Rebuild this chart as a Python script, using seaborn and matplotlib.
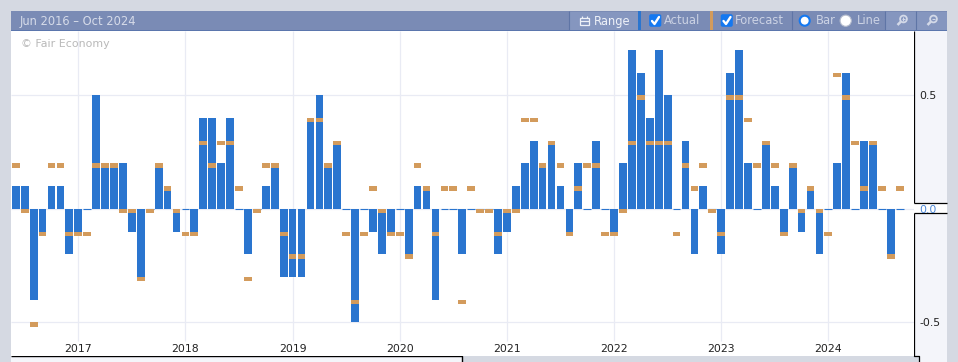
import matplotlib
matplotlib.use("Agg")
import matplotlib.pyplot as plt
from matplotlib.patches import Rectangle, Circle, FancyBboxPatch
import pandas as pd
import seaborn as sns

months = list(range(100))
actual = [0.1, 0.1, -0.4, -0.1, 0.1, 0.1, -0.2, -0.1, 0.0, 0.5,
          0.2, 0.2, 0.2, -0.1, -0.3, 0.0, 0.2, 0.1, -0.1, 0.0,
          -0.1, 0.4, 0.4, 0.2, 0.4, 0.0, -0.2, 0.0, 0.1, 0.2,
          -0.3, -0.3, -0.3, 0.4, 0.5, 0.2, 0.3, 0.0, -0.5, 0.0,
          -0.1, -0.2, -0.1, 0.0, -0.2, 0.1, 0.1, -0.4, 0.0, 0.0,
          -0.2, 0.0, 0.0, 0.0, -0.2, -0.1, 0.1, 0.2, 0.3, 0.2,
          0.3, 0.1, -0.1, 0.2, 0.0, 0.3, 0.0, -0.1, 0.2, 0.7,
          0.6, 0.4, 0.7, 0.5, 0.0, 0.3, -0.2, 0.1, 0.0, -0.2,
          0.6, 0.7, 0.2, 0.0, 0.3, 0.1, -0.1, 0.2, -0.1, 0.1,
          -0.2, 0.0, 0.2, 0.6, 0.0, 0.3, 0.3, 0.0, -0.2, 0.0]
forecast = [0.2, 0.0, -0.5, -0.1, 0.2, 0.2, -0.1, -0.1, -0.1, 0.2,
            0.2, 0.2, 0.0, 0.0, -0.3, 0.0, 0.2, 0.1, 0.0, -0.1,
            -0.1, 0.3, 0.2, 0.3, 0.3, 0.1, -0.3, 0.0, 0.2, 0.2,
            -0.1, -0.2, -0.2, 0.4, 0.4, 0.2, 0.3, -0.1, -0.4, -0.1,
            0.1, 0.0, -0.1, -0.1, -0.2, 0.2, 0.1, -0.1, 0.1, 0.1,
            -0.4, 0.1, 0.0, 0.0, -0.1, 0.0, 0.0, 0.4, 0.4, 0.2,
            0.3, 0.2, -0.1, 0.1, 0.2, 0.2, -0.1, -0.1, 0.0, 0.3,
            0.5, 0.3, 0.3, 0.3, -0.1, 0.2, 0.1, 0.2, 0.0, -0.1,
            0.5, 0.5, 0.4, 0.2, 0.3, 0.2, -0.1, 0.2, 0.0, 0.1,
            0.0, -0.1, 0.6, 0.5, 0.3, 0.1, 0.3, 0.1, -0.2, 0.1]
year_ticks = [7, 19, 31, 43, 55, 67, 79, 91]
year_labels = ["2017", "2018", "2019", "2020", "2021", "2022", "2023", "2024"]
y_ticks = [-0.5, 0.0, 0.5]
y_labels = ["-0.5", "0.0", "0.5"]

BLUE = "#2a75cf"
ORANGE = "#d39b5c"
GRID = "#e9ebf4"
PAGE = "#d5d9e2"
PANEL = "#f4f5fa"
HEAD = "#7a8bb5"
HEAD_LIGHT = "#8596bf"
W, H = 958, 362

sns.set_theme(style="white")
plt.rcParams["font.family"] = ["DejaVu Sans"]

fig = plt.figure(figsize=(W / 100, H / 100), dpi=100, facecolor=PAGE)

# ---- chrome layer, in pixel coordinates
ch = fig.add_axes([0, 0, 1, 1], zorder=0)
ch.set_xlim(0, W)
ch.set_ylim(H, 0)
ch.axis("off")


def rect(x0, y0, x1, y1, c, z=1):
    ch.add_patch(Rectangle((x0, y0), x1 - x0, y1 - y0, fc=c, ec="none", zorder=z))


def line(xs, ys, c="black", lw=0.9, z=3):
    ch.plot(xs, ys, color=c, lw=lw, solid_capstyle="butt", zorder=z)


rect(914, 31, 947, 362, PANEL)
rect(914, 356, 920, 362, PAGE, 2)
rect(11, 356, 462, 362, PANEL)
rect(914, 203, 947, 213, "white", 2)
line([914, 914], [31, 202.5])
line([914, 947], [202.5, 202.5])
line([914, 947], [213, 213])
line([914, 914, 919.5, 919.5], [213, 356, 356, 362])
line([11, 462, 462], [356, 356, 362], lw=1.0)

rect(11, 11, 947, 30.5, HEAD)
rect(11, 30, 947, 31, "#5b76ad", 2)
rect(570, 12, 638, 30, HEAD_LIGHT, 2)
rect(885, 12, 947, 30, HEAD_LIGHT, 2)
for sx in (569.5, 792, 885, 916):
    line([sx, sx], [11, 30], c="#5f75a6", lw=0.8)
rect(638, 11, 641.5, 30, BLUE, 3)
rect(710, 11, 713, 30, ORANGE, 3)

for cx in (649, 720.5):
    ch.add_patch(FancyBboxPatch((cx + 1, 15), 10.5, 11, boxstyle="round,pad=0.8,rounding_size=2",
                                fc="#1478f0", ec="none", zorder=4))
    ch.plot([cx + 3, cx + 5.5, cx + 10], [21, 24, 17], color="white", lw=1.7, zorder=5)

ch.add_patch(Circle((804.7, 20.7), 5.0, fc="white", ec="#1478f0", lw=1.5, zorder=4))
ch.add_patch(Circle((845.7, 20.7), 5.6, fc="white", ec="#b5bccd", lw=0.8, zorder=4))

ch.add_patch(Rectangle((580, 18), 9.5, 7, fc="none", ec="#eef1f8", lw=0.9, zorder=4))
line([580, 589.5], [20.5, 20.5], c="#eef1f8", lw=0.9, z=4)
line([582, 582], [15.5, 18], c="#eef1f8", lw=0.9, z=4)
line([587.5, 587.5], [15.5, 18], c="#eef1f8", lw=0.9, z=4)

for mx, plus in ((903.5, True), (933.5, False)):
    ch.add_patch(Circle((mx, 19), 3.4, fc="none", ec="#d3d9e8", lw=1.3, zorder=4))
    line([mx - 2.6, mx - 6], [21.6, 25], c="#d3d9e8", lw=1.8, z=4)
    line([mx - 1.7, mx + 1.7], [19, 19], c="#d3d9e8", lw=0.8, z=4)
    if plus:
        line([mx, mx], [17.3, 20.7], c="#d3d9e8", lw=0.8, z=4)

hdr = dict(va="center", fontsize=8.3, zorder=6)
ch.text(19.5, 21, "Jun 2016 – Oct 2024", color="#d6dbe9", **hdr)
ch.text(594, 21, "Range", color="#eef1f8", **hdr)
ch.text(664, 21, "Actual", color="#cbd2e4", **hdr)
ch.text(735, 21, "Forecast", color="#cbd2e4", **hdr)
ch.text(816, 21, "Bar", color="#cbd2e4", **hdr)
ch.text(857, 21, "Line", color="#cbd2e4", **hdr)

# ---- plot layer
ax = fig.add_axes([11 / W, 1 - 356 / H, (914 - 11) / W, (356 - 31) / H], zorder=1, facecolor="white")
df = pd.DataFrame({"month": months, "actual": actual, "forecast": forecast})

sns.barplot(data=df, x="month", y="actual", native_scale=True, width=0.87,
            color=BLUE, saturation=1, linewidth=0, ax=ax, zorder=3)

# months where the actual is exactly zero show as a thin tick on the baseline
zeros = df[df["actual"] == 0]
ax.hlines([0.0] * len(zeros), zeros["month"] - 0.43, zeros["month"] + 0.43,
          color=BLUE, lw=0.8, zorder=3)

# forecast dashes hang from their value, 4 px tall
dash = 4.4 / 227
ax.bar(df["month"], [-dash] * len(df), width=0.87, bottom=df["forecast"],
       color=ORANGE, linewidth=0, zorder=4)

ax.set_xlim((11 - 15.8) / 8.929, (914 - 15.8) / 8.929)
ax.set_ylim((208.8 - 356) / 227, (208.8 - 31) / 227)
ax.set_xlabel("")
ax.set_ylabel("")
for s in ax.spines.values():
    s.set_visible(False)

ax.set_yticks(y_ticks, y_labels)
ax.yaxis.tick_right()
ax.set_xticks(year_ticks, year_labels)
ax.tick_params(axis="y", length=0, pad=4, labelsize=7.8, labelcolor="#222222")
ax.tick_params(axis="x", length=0, pad=-8.6, labelsize=7.8, labelcolor="#222222")
ax.get_yticklabels()[1].set_color("#4a86d8")

ax.hlines(y_ticks, ax.get_xlim()[0], ax.get_xlim()[1], color=GRID, lw=0.9, zorder=1)
ax.vlines(year_ticks, (208.8 - 341) / 227, ax.get_ylim()[1], color=GRID, lw=0.9, zorder=1)

ax.annotate("© Fair Economy", xy=(21, H - 44), xycoords="figure pixels", va="center",
            fontsize=7.9, color="#b9b9b9", zorder=5)

fig.savefig("out.png", dpi=100, facecolor=fig.get_facecolor())
